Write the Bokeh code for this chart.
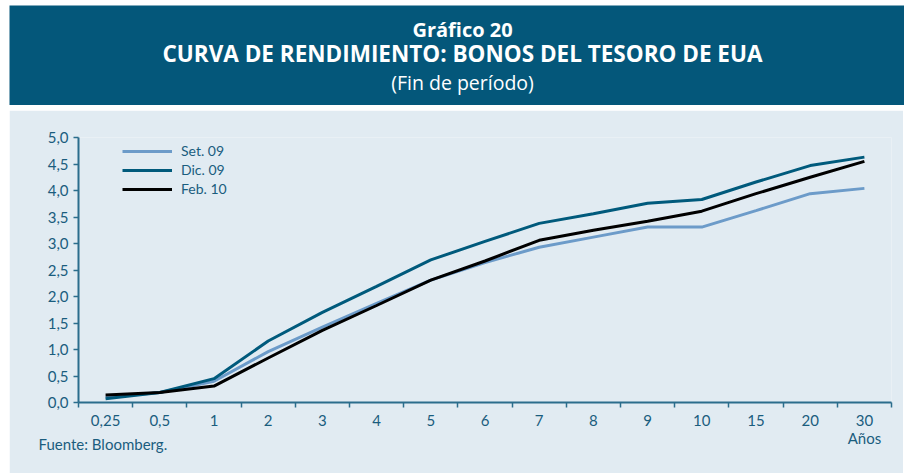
import numpy as np
from bokeh.plotting import figure
from bokeh.models import Range1d, FixedTicker, Label, Legend, LegendItem, Title
from bokeh.layouts import column
from bokeh.embed import file_html
from bokeh.resources import INLINE

# ---- data ----
tenors = ["0,25", "0,5", "1", "2", "3", "4", "5", "6", "7", "8", "9", "10", "15", "20", "30"]
set09 = [0.10, 0.19, 0.40, 0.96, 1.42, 1.87, 2.31, 2.64, 2.93, 3.12, 3.31, 3.31, 3.62, 3.94, 4.04]
dic09 = [0.07, 0.19, 0.45, 1.16, 1.70, 2.19, 2.69, 3.04, 3.38, 3.56, 3.76, 3.83, 4.16, 4.47, 4.63]
feb10 = [0.14, 0.19, 0.31, 0.84, 1.36, 1.83, 2.31, 2.67, 3.06, 3.25, 3.42, 3.61, 3.94, 4.25, 4.55]
series_names = ["Set. 09", "Dic. 09", "Feb. 10"]
y_ticks = [0.0, 0.5, 1.0, 1.5, 2.0, 2.5, 3.0, 3.5, 4.0, 4.5, 5.0]
y_tick_labels = ["0,0", "0,5", "1,0", "1,5", "2,0", "2,5", "3,0", "3,5", "4,0", "4,5", "5,0"]

title_line1 = "Gráfico 20"
title_line2 = "CURVA DE RENDIMIENTO: BONOS DEL TESORO DE EUA"
title_line3 = "(Fin de período)"
source_text = "Fuente: Bloomberg."
x_unit_text = "Años"

# ---- styles ----
TITLE_BG = "#04577a"
PANEL_BG = "#e1ebf2"
TEAL_TXT = "#1a5d7e"
AXIS_COL = "#2b6d8c"
COLORS = ["#6c9bc9", "#005a7c", "#000000"]
FONT = "Lato"

W = 895

# ---- title block ----
t = figure(width=W, height=100, x_range=Range1d(0, W), y_range=Range1d(0, 100),
           toolbar_location=None, output_backend="svg", min_border=0,
           background_fill_color=TITLE_BG, border_fill_color=TITLE_BG,
           outline_line_color=None, margin=(5, 0, 0, 9))
if "frame_align" in t.properties():
    t.frame_align = False
t.axis.visible = False
t.grid.visible = False
cx = 453
t.add_layout(Label(x=cx, y=76, text=title_line1, text_align="center", text_baseline="middle",
                   text_font="Open Sans", text_font_style="bold", text_font_size="20px",
                   text_color="white"))
t.add_layout(Label(x=cx, y=52, text=title_line2, text_align="center", text_baseline="middle",
                   text_font="Open Sans", text_font_style="bold", text_font_size="22.5px",
                   text_color="white"))
t.add_layout(Label(x=cx, y=23, text=title_line3, text_align="center", text_baseline="middle",
                   text_font="Open Sans", text_font_size="19.5px", text_color="white"))

# ---- chart ----
n = len(tenors)
xs = np.arange(n) + 0.5
p = figure(width=W - 1, height=363, x_range=Range1d(0, n), y_range=Range1d(0, 5.0),
           toolbar_location=None, output_backend="svg",
           min_border_left=69, min_border_right=12, min_border_top=27, min_border_bottom=71,
           background_fill_color=PANEL_BG, border_fill_color=PANEL_BG,
           outline_line_color=None, margin=(5, 0, 0, 9))
if "frame_align" in p.properties():
    p.frame_align = False
p.grid.visible = False

renderers = []
for vals, col in zip([set09, dic09, feb10], COLORS):
    r = p.line(xs, vals, line_color=col, line_width=3)
    renderers.append(r)

# x axis (ticks between categories, labels at centres)
x_labels = list(tenors)
x_labels[-1] = x_labels[-1] + "\n" + x_unit_text
p.xaxis.ticker = FixedTicker(ticks=list(xs), minor_ticks=list(np.arange(n + 1)))
p.xaxis.major_label_overrides = {float(x): lab for x, lab in zip(xs, x_labels)}
p.xaxis.major_tick_out = 0
p.xaxis.major_tick_in = 0
p.xaxis.minor_tick_out = 5
p.xaxis.minor_tick_in = 0
p.xaxis.minor_tick_line_color = AXIS_COL
p.xaxis.minor_tick_line_width = 1.5
p.xaxis.axis_line_color = AXIS_COL
p.xaxis.axis_line_width = 2
p.xaxis.major_label_standoff = 3
p.xaxis.major_label_text_line_height = 1.0

# y axis
p.yaxis.ticker = FixedTicker(ticks=y_ticks)
p.yaxis.major_label_overrides = {float(v): lab for v, lab in zip(y_ticks, y_tick_labels)}
p.yaxis.major_tick_out = 5
p.yaxis.major_tick_in = 0
p.yaxis.minor_tick_out = 0
p.yaxis.minor_tick_in = 0
p.yaxis.major_tick_line_color = AXIS_COL
p.yaxis.major_tick_line_width = 1.5
p.yaxis.axis_line_color = AXIS_COL
p.yaxis.axis_line_width = 2
p.yaxis.major_label_standoff = 5

for ax in (p.xaxis, p.yaxis):
    ax.major_label_text_font = FONT
    ax.major_label_text_font_size = "15px"
    ax.major_label_text_color = TEAL_TXT

legend = Legend(items=[LegendItem(label=nm, renderers=[r]) for nm, r in zip(series_names, renderers)],
                location=(44, 205), margin=0, padding=0, spacing=2,
                glyph_width=50, glyph_height=16, label_height=16, label_standoff=9,
                label_text_font=FONT, label_text_font_size="14px", label_text_color=TEAL_TXT,
                background_fill_alpha=0, border_line_color=None)
p.add_layout(legend)

p.add_layout(Title(text=source_text, align="left", vertical_align="top", offset=-40, standoff=-30,
                   text_font=FONT, text_font_size="15px", text_font_style="normal",
                   text_color=TEAL_TXT), "below")

layout = column(t, p, spacing=0)
open("out.html", "w").write(file_html(layout, INLINE))
